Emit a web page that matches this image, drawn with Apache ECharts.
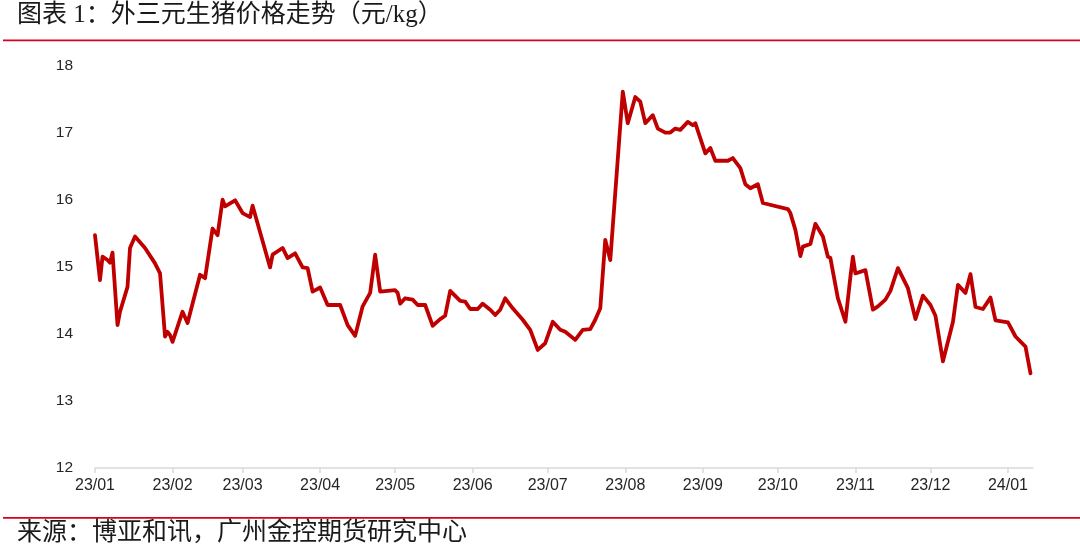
<!DOCTYPE html>
<html><head><meta charset="utf-8">
<script src="https://cdn.jsdelivr.net/npm/echarts@6/dist/echarts.min.js"></script>
<style>html,body{margin:0;padding:0;background:#fff}#c{width:1080px;height:549px}</style>
</head><body><div id="c"></div>
<script>
const titleText = '图表 1：外三元生猪价格走势（元/kg）';
const sourceText = '来源：博亚和讯，广州金控期货研究中心';
const dates = ['2023-01-01','2023-01-03','2023-01-04','2023-01-06','2023-01-07','2023-01-08','2023-01-10','2023-01-11','2023-01-14','2023-01-15','2023-01-17','2023-01-21','2023-01-25','2023-01-27','2023-01-29','2023-01-30','2023-01-31','2023-02-01','2023-02-05','2023-02-07','2023-02-12','2023-02-14','2023-02-17','2023-02-19','2023-02-21','2023-02-22','2023-02-26','2023-03-01','2023-03-04','2023-03-05','2023-03-12','2023-03-13','2023-03-17','2023-03-19','2023-03-22','2023-03-25','2023-03-27','2023-03-29','2023-04-01','2023-04-04','2023-04-09','2023-04-12','2023-04-15','2023-04-18','2023-04-21','2023-04-23','2023-04-25','2023-05-01','2023-05-02','2023-05-03','2023-05-05','2023-05-08','2023-05-10','2023-05-13','2023-05-16','2023-05-19','2023-05-21','2023-05-23','2023-05-27','2023-05-29','2023-05-31','2023-06-03','2023-06-05','2023-06-08','2023-06-10','2023-06-12','2023-06-14','2023-06-17','2023-06-21','2023-06-24','2023-06-27','2023-06-30','2023-07-03','2023-07-06','2023-07-08','2023-07-12','2023-07-15','2023-07-18','2023-07-20','2023-07-22','2023-07-24','2023-07-26','2023-07-31','2023-08-02','2023-08-05','2023-08-07','2023-08-09','2023-08-12','2023-08-14','2023-08-17','2023-08-19','2023-08-21','2023-08-23','2023-08-26','2023-08-28','2023-08-29','2023-09-02','2023-09-04','2023-09-06','2023-09-11','2023-09-13','2023-09-16','2023-09-18','2023-09-20','2023-09-23','2023-09-25','2023-10-05','2023-10-06','2023-10-08','2023-10-10','2023-10-11','2023-10-14','2023-10-16','2023-10-19','2023-10-21','2023-10-22','2023-10-25','2023-10-28','2023-10-30','2023-10-31','2023-11-01','2023-11-05','2023-11-08','2023-11-10','2023-11-13','2023-11-15','2023-11-18','2023-11-22','2023-11-25','2023-11-28','2023-12-01','2023-12-03','2023-12-06','2023-12-09','2023-12-10','2023-12-12','2023-12-15','2023-12-17','2023-12-19','2023-12-22','2023-12-25','2023-12-27','2024-01-01','2024-01-04','2024-01-08','2024-01-10'];
const prices = [15.47,14.80,15.15,15.10,15.06,15.21,14.13,14.33,14.70,15.28,15.45,15.28,15.05,14.90,13.96,14.03,13.98,13.88,14.33,14.16,14.88,14.83,15.57,15.47,16.00,15.90,15.99,15.80,15.74,15.91,14.99,15.18,15.28,15.13,15.20,14.99,14.98,14.63,14.69,14.43,14.43,14.13,13.97,14.41,14.61,15.18,14.63,14.65,14.61,14.45,14.53,14.51,14.43,14.43,14.12,14.22,14.27,14.64,14.49,14.48,14.37,14.37,14.45,14.36,14.28,14.36,14.53,14.38,14.21,14.06,13.76,13.86,14.18,14.06,14.03,13.91,14.06,14.07,14.21,14.38,15.40,15.10,17.61,17.14,17.53,17.46,17.14,17.26,17.06,17.00,17.00,17.06,17.04,17.16,17.11,17.14,16.69,16.77,16.58,16.58,16.62,16.47,16.23,16.17,16.23,15.95,15.86,15.80,15.55,15.16,15.30,15.34,15.64,15.45,15.15,15.13,14.53,14.18,14.85,15.15,14.90,14.95,14.36,14.41,14.51,14.64,14.98,14.68,14.22,14.57,14.43,14.27,13.59,14.03,14.18,14.73,14.61,14.89,14.40,14.37,14.54,14.20,14.17,13.96,13.81,13.41];
const monthTicks = ['2023-01-01','2023-02-01','2023-03-01','2023-04-01','2023-05-01','2023-06-01','2023-07-01','2023-08-01','2023-09-01','2023-10-01','2023-11-01','2023-12-01','2024-01-01'];
const monthLabels = ['23/01','23/02','23/03','23/04','23/05','23/06','23/07','23/08','23/09','23/10','23/11','23/12','24/01'];
const xMin = '2023-01-01', xMax = '2024-01-11';
const yMin = 12, yMax = 18, yStep = 1;

function ts(s){const p=s.split('-').map(Number);return Date.UTC(p[0],p[1]-1,p[2]);}
const tickTs = monthTicks.map(ts);
const labelMap = {};
tickTs.forEach((t,i)=>{labelMap[t]=monthLabels[i];});

const chart = echarts.init(document.getElementById('c'), null, {renderer:'canvas'});
chart.setOption({
  backgroundColor:'#fff',
  animation:false,
  grid:{left:95, right:47, top:65.5, bottom:81, containLabel:false},
  xAxis:{
    type:'value', min:ts(xMin), max:ts(xMax), scale:true,
    axisLine:{show:true, lineStyle:{color:'#d9d9d9', width:1.5}},
    axisTick:{show:true, length:5, lineStyle:{color:'#d9d9d9', width:1.5}, customValues:tickTs},
    axisLabel:{customValues:tickTs, color:'#262626', fontSize:16, margin:10,
      fontFamily:'Arial, "Liberation Sans", sans-serif',
      formatter:function(v){return labelMap[v] !== undefined ? labelMap[v] : '';}},
    splitLine:{show:false}
  },
  yAxis:{
    type:'value', min:yMin, max:yMax, interval:yStep,
    axisLine:{show:false}, axisTick:{show:false}, splitLine:{show:false},
    axisLabel:{color:'#262626', fontSize:15.5, margin:22, fontFamily:'Arial, "Liberation Sans", sans-serif'}
  },
  series:[{
    type:'line', name:'外三元生猪价格', showSymbol:false, symbol:'none', smooth:false,
    lineStyle:{color:'#C00000', width:3.8, join:'round', cap:'round'},
    data:dates.map((d,i)=>[ts(d), prices[i]])
  }],
  graphic:[
    {type:'text', left:17, top:3, style:{text:titleText, fill:'#1a1a1a', fontSize:25,
      fontFamily:'"Liberation Serif", "Noto Sans CJK SC", serif'}},
    {type:'rect', shape:{x:3, y:39.5, width:1077, height:1.8}, style:{fill:'#D9001B'}},
    {type:'rect', shape:{x:3, y:517, width:1077, height:1.8}, style:{fill:'#D9001B'}},
    {type:'text', left:17, top:521, style:{text:sourceText, fill:'#1a1a1a', fontSize:25,
      fontFamily:'"Liberation Serif", "Noto Sans CJK SC", serif'}}
  ]
});
</script>
</body></html>
